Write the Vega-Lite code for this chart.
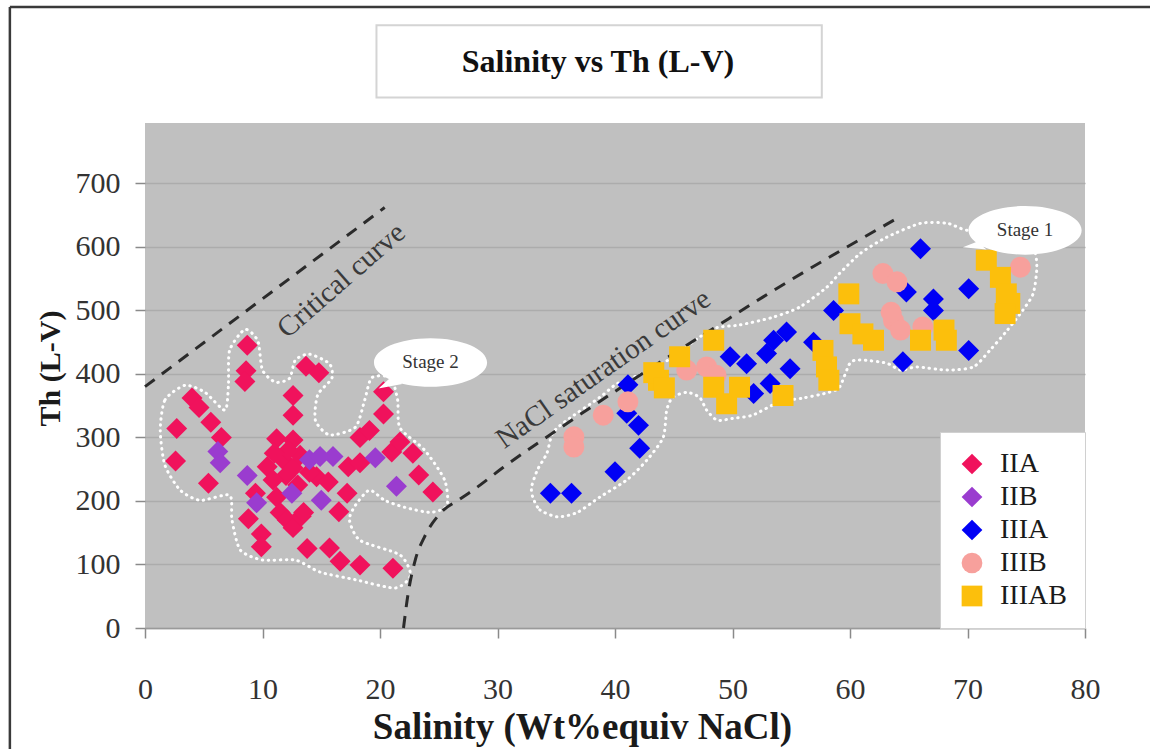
{
  "$schema": "https://vega.github.io/schema/vega-lite/v6.json",
  "width": 940,
  "height": 505,
  "autosize": {"type": "none"},
  "padding": {"left": 145, "top": 123, "right": 65, "bottom": 121},
  "background": "white",
  "config": {
    "view": {"fill": "#c0c0c0", "stroke": null},
    "font": "Liberation Serif",
    "axisX": {"grid": false, "domain": true, "domainColor": "#9a9a9a", "domainWidth": 1.5, "tickColor": "#8a8a8a", "tickSize": 10, "tickWidth": 1.5, "labelFont": "Liberation Serif", "labelFontSize": 30, "labelColor": "#333333", "labelPadding": 36, "labelFlush": false, "labelOverlap": false, "titleFont": "Liberation Serif", "titleFontSize": 37, "titleFontWeight": "bold", "titleColor": "#1a1a1a", "titlePadding": 5, "titleX": 437},
    "axisY": {"grid": true, "gridColor": "#acacac", "gridWidth": 1.5, "domain": false, "tickColor": "#8a8a8a", "tickSize": 10, "tickWidth": 1.5, "labelFont": "Liberation Serif", "labelFontSize": 30, "labelColor": "#333333", "labelPadding": 15, "labelOverlap": false, "titleFont": "Liberation Serif", "titleFontSize": 30, "titleFontWeight": "bold", "titleColor": "#1a1a1a", "titlePadding": 10, "titleY": 245},
    "legend": {"padding": 18, "fillColor": "white", "strokeColor": "#d0d0d0", "labelFont": "Liberation Serif", "labelFontSize": 28, "labelColor": "#1a1a1a", "symbolSize": 430, "rowPadding": 5, "labelOffset": 14, "symbolStrokeWidth": 0}
  },
  "layer": [
    {
      "data": {"values": [
        {"region": "s2", "i": 0, "salinity": 1.3, "th": 311}, {"region": "s2", "i": 1, "salinity": 1.7, "th": 359}, {"region": "s2", "i": 2, "salinity": 3.4, "th": 382}, {"region": "s2", "i": 3, "salinity": 5.1, "th": 371}, {"region": "s2", "i": 4, "salinity": 6.8, "th": 343}, {"region": "s2", "i": 5, "salinity": 7.1, "th": 382}, {"region": "s2", "i": 6, "salinity": 7.2, "th": 437}, {"region": "s2", "i": 7, "salinity": 8.5, "th": 470}, {"region": "s2", "i": 8, "salinity": 9.6, "th": 452}, {"region": "s2", "i": 9, "salinity": 10.0, "th": 406}, {"region": "s2", "i": 10, "salinity": 11.1, "th": 387}, {"region": "s2", "i": 11, "salinity": 12.3, "th": 393}, {"region": "s2", "i": 12, "salinity": 12.8, "th": 422}, {"region": "s2", "i": 13, "salinity": 14.0, "th": 431}, {"region": "s2", "i": 14, "salinity": 15.7, "th": 416}, {"region": "s2", "i": 15, "salinity": 15.9, "th": 393}, {"region": "s2", "i": 16, "salinity": 14.7, "th": 367}, {"region": "s2", "i": 17, "salinity": 14.5, "th": 327}, {"region": "s2", "i": 18, "salinity": 15.7, "th": 304}, {"region": "s2", "i": 19, "salinity": 17.9, "th": 316}, {"region": "s2", "i": 20, "salinity": 18.7, "th": 359}, {"region": "s2", "i": 21, "salinity": 19.3, "th": 394}, {"region": "s2", "i": 22, "salinity": 20.9, "th": 394}, {"region": "s2", "i": 23, "salinity": 21.5, "th": 359}, {"region": "s2", "i": 24, "salinity": 21.7, "th": 315}, {"region": "s2", "i": 25, "salinity": 23.8, "th": 280}, {"region": "s2", "i": 26, "salinity": 25.5, "th": 233}, {"region": "s2", "i": 27, "salinity": 25.7, "th": 193}, {"region": "s2", "i": 28, "salinity": 24.3, "th": 182}, {"region": "s2", "i": 29, "salinity": 22.1, "th": 190}, {"region": "s2", "i": 30, "salinity": 20.4, "th": 201}, {"region": "s2", "i": 31, "salinity": 19.1, "th": 217}, {"region": "s2", "i": 32, "salinity": 17.9, "th": 193}, {"region": "s2", "i": 33, "salinity": 17.4, "th": 170}, {"region": "s2", "i": 34, "salinity": 18.3, "th": 138}, {"region": "s2", "i": 35, "salinity": 21.7, "th": 115}, {"region": "s2", "i": 36, "salinity": 22.6, "th": 83}, {"region": "s2", "i": 37, "salinity": 21.3, "th": 63}, {"region": "s2", "i": 38, "salinity": 17.9, "th": 76}, {"region": "s2", "i": 39, "salinity": 14.9, "th": 88}, {"region": "s2", "i": 40, "salinity": 12.8, "th": 107}, {"region": "s2", "i": 41, "salinity": 10.0, "th": 107}, {"region": "s2", "i": 42, "salinity": 8.1, "th": 123}, {"region": "s2", "i": 43, "salinity": 7.4, "th": 170}, {"region": "s2", "i": 44, "salinity": 7.2, "th": 209}, {"region": "s2", "i": 45, "salinity": 4.7, "th": 201}, {"region": "s2", "i": 46, "salinity": 3.0, "th": 217}, {"region": "s2", "i": 47, "salinity": 1.7, "th": 256},
        {"region": "s1", "i": 0, "salinity": 33.0, "th": 206}, {"region": "s1", "i": 1, "salinity": 33.6, "th": 186}, {"region": "s1", "i": 2, "salinity": 35.1, "th": 175}, {"region": "s1", "i": 3, "salinity": 36.8, "th": 182}, {"region": "s1", "i": 4, "salinity": 38.7, "th": 206}, {"region": "s1", "i": 5, "salinity": 41.0, "th": 233}, {"region": "s1", "i": 6, "salinity": 42.7, "th": 264}, {"region": "s1", "i": 7, "salinity": 44.1, "th": 300}, {"region": "s1", "i": 8, "salinity": 44.4, "th": 343}, {"region": "s1", "i": 9, "salinity": 44.9, "th": 363}, {"region": "s1", "i": 10, "salinity": 46.1, "th": 371}, {"region": "s1", "i": 11, "salinity": 47.2, "th": 363}, {"region": "s1", "i": 12, "salinity": 47.8, "th": 343}, {"region": "s1", "i": 13, "salinity": 48.7, "th": 327}, {"region": "s1", "i": 14, "salinity": 50.0, "th": 330}, {"region": "s1", "i": 15, "salinity": 51.7, "th": 335}, {"region": "s1", "i": 16, "salinity": 54.0, "th": 356}, {"region": "s1", "i": 17, "salinity": 56.0, "th": 362}, {"region": "s1", "i": 18, "salinity": 58.0, "th": 370}, {"region": "s1", "i": 19, "salinity": 59.1, "th": 379}, {"region": "s1", "i": 20, "salinity": 60.0, "th": 417}, {"region": "s1", "i": 21, "salinity": 60.9, "th": 422}, {"region": "s1", "i": 22, "salinity": 63.1, "th": 417}, {"region": "s1", "i": 23, "salinity": 64.3, "th": 406}, {"region": "s1", "i": 24, "salinity": 65.7, "th": 411}, {"region": "s1", "i": 25, "salinity": 68.3, "th": 406}, {"region": "s1", "i": 26, "salinity": 70.5, "th": 411}, {"region": "s1", "i": 27, "salinity": 71.9, "th": 437}, {"region": "s1", "i": 28, "salinity": 73.4, "th": 469}, {"region": "s1", "i": 29, "salinity": 74.7, "th": 500}, {"region": "s1", "i": 30, "salinity": 75.6, "th": 527}, {"region": "s1", "i": 31, "salinity": 75.9, "th": 568}, {"region": "s1", "i": 32, "salinity": 75.6, "th": 600}, {"region": "s1", "i": 33, "salinity": 74.0, "th": 620}, {"region": "s1", "i": 34, "salinity": 70.0, "th": 626}, {"region": "s1", "i": 35, "salinity": 68.3, "th": 637}, {"region": "s1", "i": 36, "salinity": 66.0, "th": 637}, {"region": "s1", "i": 37, "salinity": 63.1, "th": 615}, {"region": "s1", "i": 38, "salinity": 60.9, "th": 590}, {"region": "s1", "i": 39, "salinity": 59.1, "th": 558}, {"region": "s1", "i": 40, "salinity": 58.0, "th": 536}, {"region": "s1", "i": 41, "salinity": 55.7, "th": 505}, {"region": "s1", "i": 42, "salinity": 53.4, "th": 489}, {"region": "s1", "i": 43, "salinity": 50.6, "th": 477}, {"region": "s1", "i": 44, "salinity": 48.7, "th": 473}, {"region": "s1", "i": 45, "salinity": 47.2, "th": 458}, {"region": "s1", "i": 46, "salinity": 44.9, "th": 426}, {"region": "s1", "i": 47, "salinity": 42.4, "th": 401}, {"region": "s1", "i": 48, "salinity": 40.2, "th": 385}, {"region": "s1", "i": 49, "salinity": 38.7, "th": 363}, {"region": "s1", "i": 50, "salinity": 35.9, "th": 327}, {"region": "s1", "i": 51, "salinity": 34.7, "th": 307}, {"region": "s1", "i": 52, "salinity": 34.2, "th": 275}, {"region": "s1", "i": 53, "salinity": 33.4, "th": 249}, {"region": "s1", "i": 54, "salinity": 32.9, "th": 222}
      ]},
      "mark": {"type": "line", "interpolate": "cardinal-closed", "tension": 0.3, "stroke": "white", "strokeWidth": 3, "strokeDash": [0.5, 5.5], "strokeCap": "round"},
      "encoding": {
        "x": {"field": "salinity", "type": "quantitative", "title": "Salinity (Wt%equiv NaCl)", "scale": {"domain": [0, 80], "nice": false, "zero": false}, "axis": {"values": [0, 10, 20, 30, 40, 50, 60, 70, 80]}},
        "y": {"field": "th", "type": "quantitative", "title": "Th (L-V)", "scale": {"domain": [0, 795], "nice": false, "zero": false}, "axis": {"values": [0, 100, 200, 300, 400, 500, 600, 700]}},
        "detail": {"field": "region"}, "order": {"field": "i", "type": "quantitative"}}
    },
    {
      "data": {"values": [
        {"curve": "critical", "salinity": 0, "th": 380}, {"curve": "critical", "salinity": 20.4, "th": 662},
        {"curve": "nacl", "salinity": 22.0, "th": 0}, {"curve": "nacl", "salinity": 22.4, "th": 55}, {"curve": "nacl", "salinity": 23.0, "th": 107}, {"curve": "nacl", "salinity": 23.8, "th": 144}, {"curve": "nacl", "salinity": 25.1, "th": 180}, {"curve": "nacl", "salinity": 26.8, "th": 203}, {"curve": "nacl", "salinity": 28.0, "th": 218}, {"curve": "nacl", "salinity": 30.5, "th": 253}, {"curve": "nacl", "salinity": 35.9, "th": 322}, {"curve": "nacl", "salinity": 42.7, "th": 405}, {"curve": "nacl", "salinity": 48.4, "th": 472}, {"curve": "nacl", "salinity": 53.2, "th": 528}, {"curve": "nacl", "salinity": 64.3, "th": 648}
      ]},
      "mark": {"type": "line", "interpolate": "monotone", "stroke": "#2b2b2b", "strokeWidth": 3, "strokeDash": [12, 9]},
      "encoding": {
        "x": {"field": "salinity", "type": "quantitative", "title": "Salinity (Wt%equiv NaCl)", "scale": {"domain": [0, 80], "nice": false, "zero": false}, "axis": {"values": [0, 10, 20, 30, 40, 50, 60, 70, 80]}},
        "y": {"field": "th", "type": "quantitative", "title": "Th (L-V)", "scale": {"domain": [0, 795], "nice": false, "zero": false}, "axis": {"values": [0, 100, 200, 300, 400, 500, 600, 700]}},
        "detail": {"field": "curve"}}
    },
    {
      "data": {"values": [{}]},
      "mark": {"type": "text", "text": "Critical curve", "angle": 319, "font": "Liberation Serif", "fontSize": 29, "color": "#3a3a3a", "align": "center", "baseline": "middle"},
      "encoding": {"x": {"datum": 16.7}, "y": {"datum": 547}}
    },
    {
      "data": {"values": [{}]},
      "mark": {"type": "text", "text": "NaCl saturation curve", "angle": 325, "font": "Liberation Serif", "fontSize": 29, "color": "#3a3a3a", "align": "center", "baseline": "middle"},
      "encoding": {"x": {"datum": 39.0}, "y": {"datum": 408}}
    },
    {
      "data": {"values": [
        {"series": "IIA", "salinity": 8.7, "th": 445}, {"series": "IIA", "salinity": 8.6, "th": 405}, {"series": "IIA", "salinity": 8.5, "th": 388}, {"series": "IIA", "salinity": 13.7, "th": 412}, {"series": "IIA", "salinity": 14.8, "th": 402}, {"series": "IIA", "salinity": 12.6, "th": 366}, {"series": "IIA", "salinity": 12.6, "th": 335}, {"series": "IIA", "salinity": 4.0, "th": 362}, {"series": "IIA", "salinity": 4.6, "th": 347}, {"series": "IIA", "salinity": 5.6, "th": 324}, {"series": "IIA", "salinity": 6.5, "th": 300}, {"series": "IIA", "salinity": 2.7, "th": 314}, {"series": "IIA", "salinity": 2.6, "th": 263}, {"series": "IIA", "salinity": 5.4, "th": 228}, {"series": "IIA", "salinity": 11.2, "th": 298}, {"series": "IIA", "salinity": 12.6, "th": 296}, {"series": "IIA", "salinity": 10.4, "th": 254}, {"series": "IIA", "salinity": 11.8, "th": 264}, {"series": "IIA", "salinity": 12.6, "th": 252}, {"series": "IIA", "salinity": 12.0, "th": 240}, {"series": "IIA", "salinity": 13.2, "th": 272}, {"series": "IIA", "salinity": 10.9, "th": 233}, {"series": "IIA", "salinity": 9.4, "th": 212}, {"series": "IIA", "salinity": 11.2, "th": 206}, {"series": "IIA", "salinity": 11.5, "th": 182}, {"series": "IIA", "salinity": 8.8, "th": 172}, {"series": "IIA", "salinity": 12.1, "th": 170}, {"series": "IIA", "salinity": 12.6, "th": 158}, {"series": "IIA", "salinity": 13.3, "th": 176}, {"series": "IIA", "salinity": 9.9, "th": 148}, {"series": "IIA", "salinity": 9.9, "th": 128}, {"series": "IIA", "salinity": 13.8, "th": 125}, {"series": "IIA", "salinity": 14.6, "th": 238}, {"series": "IIA", "salinity": 17.2, "th": 212}, {"series": "IIA", "salinity": 16.5, "th": 183}, {"series": "IIA", "salinity": 17.3, "th": 254}, {"series": "IIA", "salinity": 18.3, "th": 260}, {"series": "IIA", "salinity": 18.3, "th": 300}, {"series": "IIA", "salinity": 19.1, "th": 311}, {"series": "IIA", "salinity": 20.3, "th": 337}, {"series": "IIA", "salinity": 20.3, "th": 372}, {"series": "IIA", "salinity": 21.0, "th": 277}, {"series": "IIA", "salinity": 21.7, "th": 293}, {"series": "IIA", "salinity": 22.8, "th": 275}, {"series": "IIA", "salinity": 23.3, "th": 241}, {"series": "IIA", "salinity": 24.5, "th": 214}, {"series": "IIA", "salinity": 15.7, "th": 126}, {"series": "IIA", "salinity": 16.6, "th": 105}, {"series": "IIA", "salinity": 18.3, "th": 99}, {"series": "IIA", "salinity": 21.1, "th": 94}, {"series": "IIA", "salinity": 13.5, "th": 182}, {"series": "IIA", "salinity": 12.2, "th": 280}, {"series": "IIA", "salinity": 14.0, "th": 245}, {"series": "IIA", "salinity": 15.6, "th": 230}, {"series": "IIA", "salinity": 11.0, "th": 275}, {"series": "IIA", "salinity": 13.0, "th": 225},
        {"series": "IIB", "salinity": 6.2, "th": 278}, {"series": "IIB", "salinity": 6.4, "th": 260}, {"series": "IIB", "salinity": 8.7, "th": 240}, {"series": "IIB", "salinity": 9.5, "th": 197}, {"series": "IIB", "salinity": 12.5, "th": 212}, {"series": "IIB", "salinity": 14.0, "th": 265}, {"series": "IIB", "salinity": 14.9, "th": 270}, {"series": "IIB", "salinity": 16.0, "th": 270}, {"series": "IIB", "salinity": 15.0, "th": 201}, {"series": "IIB", "salinity": 19.6, "th": 268}, {"series": "IIB", "salinity": 21.4, "th": 223},
        {"series": "IIIA", "salinity": 34.5, "th": 212}, {"series": "IIIA", "salinity": 36.3, "th": 212}, {"series": "IIIA", "salinity": 40.0, "th": 246}, {"series": "IIIA", "salinity": 42.1, "th": 283}, {"series": "IIIA", "salinity": 42.0, "th": 319}, {"series": "IIIA", "salinity": 41.0, "th": 338}, {"series": "IIIA", "salinity": 41.1, "th": 383}, {"series": "IIIA", "salinity": 49.8, "th": 427}, {"series": "IIIA", "salinity": 51.2, "th": 416}, {"series": "IIIA", "salinity": 52.9, "th": 432}, {"series": "IIIA", "salinity": 51.8, "th": 369}, {"series": "IIIA", "salinity": 53.2, "th": 385}, {"series": "IIIA", "salinity": 53.5, "th": 453}, {"series": "IIIA", "salinity": 54.6, "th": 466}, {"series": "IIIA", "salinity": 54.9, "th": 408}, {"series": "IIIA", "salinity": 56.9, "th": 450}, {"series": "IIIA", "salinity": 58.6, "th": 500}, {"series": "IIIA", "salinity": 66.0, "th": 597}, {"series": "IIIA", "salinity": 64.8, "th": 529}, {"series": "IIIA", "salinity": 67.1, "th": 518}, {"series": "IIIA", "salinity": 67.1, "th": 500}, {"series": "IIIA", "salinity": 70.1, "th": 534}, {"series": "IIIA", "salinity": 64.5, "th": 419}, {"series": "IIIA", "salinity": 70.1, "th": 437},
        {"series": "IIIB", "salinity": 36.5, "th": 301}, {"series": "IIIB", "salinity": 36.5, "th": 285}, {"series": "IIIB", "salinity": 39.0, "th": 335}, {"series": "IIIB", "salinity": 41.1, "th": 356}, {"series": "IIIB", "salinity": 46.1, "th": 406}, {"series": "IIIB", "salinity": 47.8, "th": 411}, {"series": "IIIB", "salinity": 48.6, "th": 398}, {"series": "IIIB", "salinity": 62.8, "th": 558}, {"series": "IIIB", "salinity": 64.0, "th": 545}, {"series": "IIIB", "salinity": 74.5, "th": 568}, {"series": "IIIB", "salinity": 63.7, "th": 484}, {"series": "IIIB", "salinity": 64.3, "th": 469}, {"series": "IIIB", "salinity": 66.2, "th": 474}, {"series": "IIIB", "salinity": 63.5, "th": 497},
        {"series": "IIIAB", "salinity": 43.7, "th": 390}, {"series": "IIIAB", "salinity": 43.3, "th": 402}, {"series": "IIIAB", "salinity": 45.5, "th": 427}, {"series": "IIIAB", "salinity": 48.4, "th": 453}, {"series": "IIIAB", "salinity": 48.4, "th": 379}, {"series": "IIIAB", "salinity": 49.5, "th": 353}, {"series": "IIIAB", "salinity": 50.6, "th": 379}, {"series": "IIIAB", "salinity": 54.3, "th": 366}, {"series": "IIIAB", "salinity": 59.9, "th": 526}, {"series": "IIIAB", "salinity": 60.0, "th": 479}, {"series": "IIIAB", "salinity": 61.1, "th": 463}, {"series": "IIIAB", "salinity": 62.0, "th": 453}, {"series": "IIIAB", "salinity": 66.0, "th": 453}, {"series": "IIIAB", "salinity": 68.0, "th": 469}, {"series": "IIIAB", "salinity": 68.2, "th": 453}, {"series": "IIIAB", "salinity": 57.7, "th": 437}, {"series": "IIIAB", "salinity": 58.0, "th": 411}, {"series": "IIIAB", "salinity": 58.2, "th": 390}, {"series": "IIIAB", "salinity": 71.6, "th": 579}, {"series": "IIIAB", "salinity": 72.8, "th": 552}, {"series": "IIIAB", "salinity": 73.3, "th": 526}, {"series": "IIIAB", "salinity": 73.6, "th": 511}, {"series": "IIIAB", "salinity": 73.2, "th": 495}, {"series": "IIIAB", "salinity": 44.2, "th": 378}
      ]},
      "mark": {"type": "point", "filled": true, "opacity": 1, "size": 440, "strokeWidth": 0},
      "encoding": {
        "x": {"field": "salinity", "type": "quantitative", "title": "Salinity (Wt%equiv NaCl)", "scale": {"domain": [0, 80], "nice": false, "zero": false}, "axis": {"values": [0, 10, 20, 30, 40, 50, 60, 70, 80]}},
        "y": {"field": "th", "type": "quantitative", "title": "Th (L-V)", "scale": {"domain": [0, 795], "nice": false, "zero": false}, "axis": {"values": [0, 100, 200, 300, 400, 500, 600, 700]}},
        "color": {"field": "series", "type": "nominal", "scale": {"domain": ["IIA", "IIB", "IIIA", "IIIB", "IIIAB"], "range": ["#f0125c", "#9a3ccf", "#0000f5", "#f7a09c", "#fcbf0c"]}, "legend": {"title": null, "orient": "bottom-right", "offset": 0}},
        "shape": {"field": "series", "type": "nominal", "scale": {"domain": ["IIA", "IIB", "IIIA", "IIIB", "IIIAB"], "range": ["diamond", "diamond", "diamond", "circle", "square"]}, "legend": {"title": null, "orient": "bottom-right", "offset": 0}}
      }
    },
    {
      "data": {"values": [{}]},
      "mark": {"type": "point", "shape": "M -1 0 C -1 -0.2375 -0.5523 -0.43 0 -0.43 C 0.5523 -0.43 1 -0.2375 1 0 C 1 0.2375 0.5523 0.43 0 0.43 C -0.5523 0.43 -1 0.2375 -1 0 Z M -0.72 0.28 L -0.5 0.38 L -0.92 0.46 Z", "size": 12800, "filled": true, "fill": "white", "opacity": 1, "strokeWidth": 0},
      "encoding": {"x": {"datum": 24.3}, "y": {"datum": 418}}
    },
    {
      "data": {"values": [{}]},
      "mark": {"type": "point", "shape": "M -1 0 C -1 -0.2375 -0.5523 -0.43 0 -0.43 C 0.5523 -0.43 1 -0.2375 1 0 C 1 0.2375 0.5523 0.43 0 0.43 C -0.5523 0.43 -1 0.2375 -1 0 Z M -0.85 0.2 L -0.68 0.34 L -1.1 0.3 Z", "size": 12800, "filled": true, "fill": "white", "opacity": 1, "strokeWidth": 0},
      "encoding": {"x": {"datum": 74.9}, "y": {"datum": 626}}
    },
    {
      "data": {"values": [{}]},
      "mark": {"type": "text", "text": "Stage 2", "font": "Liberation Serif", "fontSize": 19, "color": "#333333", "align": "center", "baseline": "middle"},
      "encoding": {"x": {"datum": 24.3}, "y": {"datum": 418}}
    },
    {
      "data": {"values": [{}]},
      "mark": {"type": "text", "text": "Stage 1", "font": "Liberation Serif", "fontSize": 19, "color": "#333333", "align": "center", "baseline": "middle"},
      "encoding": {"x": {"datum": 74.9}, "y": {"datum": 626}}
    },
    {
      "data": {"values": [{}]},
      "mark": {"type": "rect", "fill": "transparent", "stroke": "#d4d4d4", "strokeWidth": 2},
      "encoding": {"x": {"datum": 19.7}, "x2": {"datum": 57.6}, "y": {"datum": 949}, "y2": {"datum": 835}}
    },
    {
      "data": {"values": [{}]},
      "mark": {"type": "text", "text": "Salinity vs Th (L-V)", "font": "Liberation Serif", "fontSize": 32, "fontWeight": "bold", "color": "#111111", "align": "center", "baseline": "middle"},
      "encoding": {"x": {"datum": 38.55}, "y": {"datum": 891}}
    },
    {
      "data": {"values": [{}]},
      "mark": {"type": "rule", "stroke": "#3a3a3a", "strokeWidth": 2.5},
      "encoding": {"x": {"datum": -11.5}, "x2": {"datum": 90}, "y": {"datum": 977.5}}
    },
    {
      "data": {"values": [{}]},
      "mark": {"type": "rule", "stroke": "#3a3a3a", "strokeWidth": 2.5},
      "encoding": {"x": {"datum": -11.5}, "y": {"datum": 977.5}, "y2": {"datum": -250}}
    }
  ]
}
